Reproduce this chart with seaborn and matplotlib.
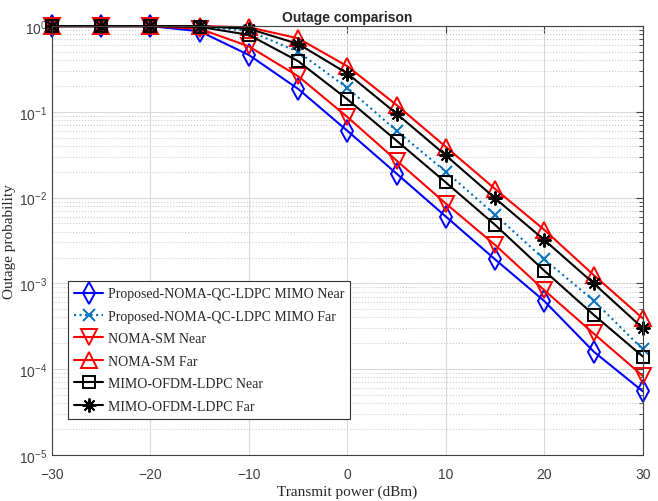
import numpy as np
import pandas as pd
import matplotlib
matplotlib.use('Agg')
import matplotlib.pyplot as plt
import seaborn as sns
from matplotlib.ticker import LogLocator, NullFormatter

# données
puissance = [-30, -25, -20, -15, -10, -5, 0, 5, 10, 15, 20, 25, 30]
prop_near = [1, 1, 1, 0.87, 0.46, 0.185, 0.06, 0.019, 0.006, 0.0019, 6.2e-4, 1.6e-4, 5.5e-5]
prop_far = [1, 1, 1, 0.99, 0.88, 0.5, 0.19, 0.06, 0.02, 0.0063, 0.0019, 6.3e-4, 1.7e-4]
sm_near = [1, 1, 1, 0.93, 0.58, 0.26, 0.087, 0.027, 0.0085, 0.0028, 8.3e-4, 2.6e-4, 8.3e-5]
sm_far = [1, 1, 1, 1, 0.97, 0.72, 0.34, 0.12, 0.039, 0.0126, 0.0042, 0.00125, 3.9e-4]
ofdm_near = [1, 1, 1, 0.98, 0.79, 0.39, 0.14, 0.046, 0.015, 0.0048, 0.0014, 4.3e-4, 1.4e-4]
ofdm_far = [1, 1, 1, 1, 0.93, 0.62, 0.28, 0.095, 0.031, 0.0098, 0.0032, 0.001, 3.0e-4]

labels = ['Proposed-NOMA-QC-LDPC MIMO Near', 'Proposed-NOMA-QC-LDPC MIMO Far',
          'NOMA-SM Near', 'NOMA-SM Far', 'MIMO-OFDM-LDPC Near', 'MIMO-OFDM-LDPC Far']
series = [prop_near, prop_far, sm_near, sm_far, ofdm_near, ofdm_far]

# asterisque façon MATLAB
asterisk = (8, 2, 0)
styles = [
    dict(color='#0000ff', marker='d', linestyle='-', ms=11),
    dict(color='#0072bd', marker='x', linestyle=':', ms=8),
    dict(color='#ff0000', marker='v', linestyle='-', ms=11),
    dict(color='#ff0000', marker='^', linestyle='-', ms=11),
    dict(color='#000000', marker='s', linestyle='-', ms=8),
    dict(color='#000000', marker=asterisk, linestyle='-', ms=10),
]

sns.set_style('white')
plt.rcParams['font.family'] = ['Liberation Sans', 'DejaVu Sans']

fig = plt.figure(figsize=(6.58, 5.02), dpi=100)
ax = fig.add_axes([0.079, 0.092, 0.898, 0.854])

for lab, vals, st in zip(labels, series, styles):
    df = pd.DataFrame({'x': puissance, 'y': vals})
    sns.lineplot(data=df, x='x', y='y', ax=ax, label=lab,
                 color=st['color'], marker=st['marker'], linestyle=st['linestyle'],
                 markersize=st['ms'], markerfacecolor='none',
                 markeredgecolor=st['color'], markeredgewidth=1.4,
                 linewidth=1.5, clip_on=False)

ax.set_yscale('log')
ax.set_xlim(-30, 30)
ax.set_ylim(1e-5, 1)
ax.set_xticks(range(-30, 31, 10))
ax.yaxis.set_major_locator(LogLocator(base=10, numticks=10))
ax.yaxis.set_minor_locator(LogLocator(base=10, subs=np.arange(2, 10), numticks=20))
ax.yaxis.set_minor_formatter(NullFormatter())

ax.grid(True, which='major', color='#d9d9d9', linestyle='-', linewidth=0.8)
ax.grid(True, which='minor', axis='y', color='#cccccc', linestyle=':', linewidth=0.8)
ax.set_axisbelow(True)

ax.tick_params(which='both', direction='in', top=True, right=True, colors='#404040',
               labelsize=10)
ax.tick_params(which='major', length=5)
ax.tick_params(which='minor', length=3)
ax.tick_params(axis='x', pad=9)
for sp in ax.spines.values():
    sp.set_color('#404040')
    sp.set_linewidth(0.8)

ax.set_title('Outage comparison', fontsize=10, fontweight='bold', pad=4)
ax.set_xlabel('Transmit power (dBm)', family=['Liberation Serif'], fontsize=11, labelpad=2)
ax.set_ylabel('Outage probability', family=['Liberation Serif'], fontsize=11, labelpad=2)

leg = ax.legend(loc='upper left', bbox_to_anchor=(0.027, 0.405), frameon=True,
                fancybox=False, edgecolor='#333333', framealpha=1,
                prop={'family': 'Liberation Serif', 'size': 10},
                handlelength=2.1, handletextpad=0.3, borderpad=0.45, labelspacing=0.68,
                borderaxespad=0)
leg.get_frame().set_linewidth(0.8)

fig.savefig('out.png', dpi=100)
